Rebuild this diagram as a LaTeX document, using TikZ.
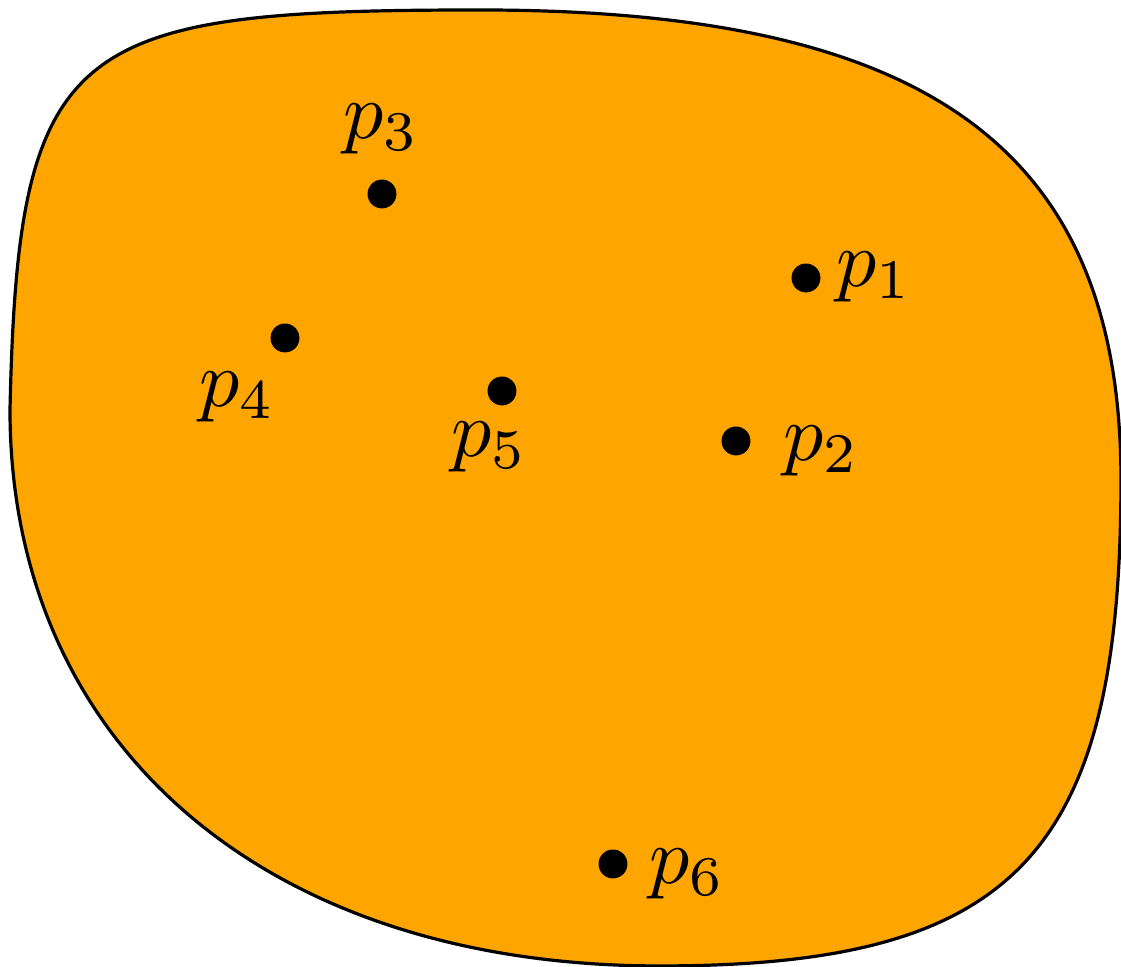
\documentclass[tikz,border=0pt]{standalone}
\usepackage{tikz}

\definecolor{blobfill}{RGB}{255,165,0}

\begin{document}
\begin{tikzpicture}[x=0.004394cm, y=-0.004394cm,
  dot/.style={circle, fill=black, inner sep=0pt, minimum size=0.127cm},
  plabel/.style={anchor=base west, inner sep=0pt}]
  \useasboundingbox (0,0) rectangle (1121,967);

  % Region (orange blob)
  \draw[fill=blobfill, draw=black, line width=0.4pt]
    (10,410) .. controls (18,40) and (70,10) .. (480,10)
    .. controls (930,10) and (1121,150) .. (1121,480)
    .. controls (1121,855) and (1015,966) .. (660,966)
    .. controls (260,966) and (10,740) .. cycle;

  % Points
  \node[dot] (p1) at (806,278) {};
  \node[dot] (p2) at (736,441) {};
  \node[dot] (p3) at (382,194) {};
  \node[dot] (p4) at (285,338) {};
  \node[dot] (p5) at (502,391) {};
  \node[dot] (p6) at (613,864) {};

  % Point labels
  \node[plabel] (l1) at (835,287) {$p_1$};
  \node[plabel] (l2) at (782,461) {$p_2$};
  \node[plabel] (l3) at (342,139) {$p_3$};
  \node[plabel] (l4) at (198,407) {$p_4$};
  \node[plabel] (l5) at (450,457) {$p_5$};
  \node[plabel] (l6) at (648,884) {$p_6$};
\end{tikzpicture}
\end{document}
